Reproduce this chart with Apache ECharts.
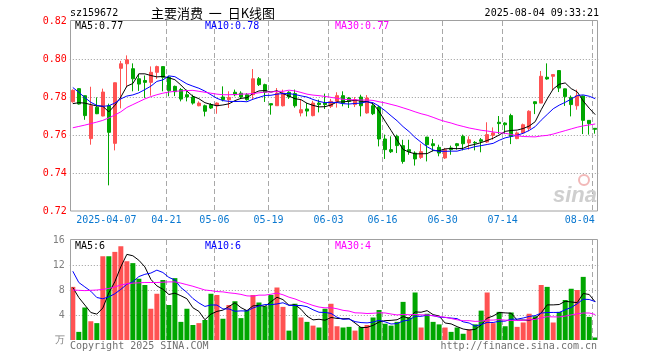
<!DOCTYPE html>
<html><head><meta charset="utf-8">
<script src="https://cdn.jsdelivr.net/npm/echarts@6/dist/echarts.min.js"></script>
<style>html,body{margin:0;padding:0;background:#fff}#c{width:660px;height:360px}</style>
</head><body><div id="c"></div>
<script>
const dates = ['2025-03-27','2025-03-28','2025-03-31','2025-04-01','2025-04-02','2025-04-03','2025-04-07','2025-04-08','2025-04-09','2025-04-10',
'2025-04-11','2025-04-14','2025-04-15','2025-04-16','2025-04-17','2025-04-18','2025-04-21','2025-04-22','2025-04-23','2025-04-24',
'2025-04-25','2025-04-28','2025-04-29','2025-04-30','2025-05-06','2025-05-07','2025-05-08','2025-05-09','2025-05-12','2025-05-13',
'2025-05-14','2025-05-15','2025-05-16','2025-05-19','2025-05-20','2025-05-21','2025-05-22','2025-05-23','2025-05-26','2025-05-27',
'2025-05-28','2025-05-29','2025-05-30','2025-06-03','2025-06-04','2025-06-05','2025-06-06','2025-06-09','2025-06-10','2025-06-11',
'2025-06-12','2025-06-13','2025-06-16','2025-06-17','2025-06-18','2025-06-19','2025-06-20','2025-06-23','2025-06-24','2025-06-25',
'2025-06-26','2025-06-27','2025-06-30','2025-07-01','2025-07-02','2025-07-03','2025-07-04','2025-07-07','2025-07-08','2025-07-09',
'2025-07-10','2025-07-11','2025-07-14','2025-07-15','2025-07-16','2025-07-17','2025-07-18','2025-07-21','2025-07-22','2025-07-23',
'2025-07-24','2025-07-25','2025-07-28','2025-07-29','2025-07-30','2025-07-31','2025-08-01','2025-08-04'];

const openP = [0.7775,0.7844,0.7807,0.7581,0.7746,0.7700,0.7754,0.7556,0.7951,0.7975,
0.7949,0.7896,0.7887,0.7877,0.7930,0.7960,0.7904,0.7856,0.7839,0.7812,
0.7800,0.7754,0.7754,0.7760,0.7754,0.7800,0.7786,0.7825,0.7820,0.7812,
0.7812,0.7896,0.7865,0.7765,0.7754,0.7754,0.7825,0.7818,0.7716,0.7737,
0.7702,0.7768,0.7768,0.7751,0.7777,0.7807,0.7795,0.7760,0.7800,0.7716,
0.7754,0.7747,0.7579,0.7523,0.7593,0.7544,0.7523,0.7505,0.7482,0.7589,
0.7554,0.7535,0.7479,0.7532,0.7554,0.7593,0.7558,0.7561,0.7575,0.7563,
0.7598,0.7667,0.7663,0.7702,0.7581,0.7611,0.7635,0.7775,0.7768,0.7904,
0.7909,0.7939,0.7843,0.7798,0.7754,0.7805,0.7677,0.7635];

const closeP = [0.7835,0.7763,0.7702,0.7754,0.7712,0.7826,0.7614,0.7875,0.7975,0.7996,
0.7896,0.7868,0.7877,0.7930,0.7960,0.7904,0.7833,0.7828,0.7789,0.7800,
0.7768,0.7768,0.7725,0.7742,0.7768,0.7786,0.7798,0.7812,0.7800,0.7786,
0.7896,0.7865,0.7825,0.7758,0.7821,0.7821,0.7800,0.7754,0.7733,0.7726,
0.7768,0.7760,0.7760,0.7777,0.7807,0.7768,0.7777,0.7786,0.7754,0.7795,
0.7712,0.7579,0.7523,0.7512,0.7544,0.7461,0.7512,0.7474,0.7512,0.7549,
0.7544,0.7505,0.7523,0.7523,0.7544,0.7554,0.7575,0.7558,0.7567,0.7602,
0.7611,0.7660,0.7654,0.7593,0.7611,0.7654,0.7725,0.7765,0.7909,0.7895,
0.7918,0.7847,0.7802,0.7760,0.7807,0.7677,0.7660,0.7630];

const lowP = [0.7770,0.7760,0.7680,0.7549,0.7710,0.7698,0.7335,0.7519,0.7740,0.7850,
0.7830,0.7832,0.7795,0.7807,0.7895,0.7830,0.7804,0.7805,0.7777,0.7777,
0.7760,0.7751,0.7698,0.7737,0.7712,0.7777,0.7742,0.7804,0.7789,0.7781,
0.7786,0.7858,0.7774,0.7707,0.7754,0.7750,0.7790,0.7744,0.7698,0.7698,
0.7698,0.7719,0.7737,0.7742,0.7744,0.7751,0.7742,0.7747,0.7698,0.7712,
0.7705,0.7540,0.7474,0.7505,0.7505,0.7449,0.7496,0.7439,0.7474,0.7461,
0.7514,0.7488,0.7474,0.7496,0.7523,0.7519,0.7523,0.7519,0.7509,0.7558,
0.7575,0.7605,0.7605,0.7552,0.7578,0.7609,0.7620,0.7710,0.7768,0.7891,
0.7838,0.7826,0.7753,0.7698,0.7733,0.7605,0.7602,0.7607];

const highP = [0.7840,0.7846,0.7808,0.7854,0.7798,0.7844,0.7765,0.7876,0.7990,0.8019,
0.7977,0.7922,0.7913,0.7961,0.7965,0.7962,0.7912,0.7860,0.7847,0.7839,
0.7812,0.7777,0.7760,0.7768,0.7772,0.7856,0.7830,0.7839,0.7830,0.7820,
0.7947,0.7905,0.7870,0.7765,0.7847,0.7839,0.7830,0.7839,0.7786,0.7768,
0.7780,0.7786,0.7818,0.7790,0.7825,0.7830,0.7800,0.7800,0.7812,0.7810,
0.7765,0.7754,0.7602,0.7593,0.7602,0.7575,0.7575,0.7514,0.7554,0.7590,
0.7579,0.7549,0.7532,0.7544,0.7558,0.7602,0.7593,0.7568,0.7584,0.7667,
0.7640,0.7700,0.7667,0.7712,0.7619,0.7660,0.7730,0.7777,0.7937,0.7977,
0.7918,0.7940,0.7844,0.7808,0.7839,0.7807,0.7677,0.7637];

const ma5 = [0.7765,0.7770,0.7768,0.7760,0.7753,0.7751,0.7722,0.7756,0.7800,0.7857,
0.7871,0.7922,0.7922,0.7913,0.7906,0.7908,0.7901,0.7891,0.7863,0.7831,
0.7804,0.7791,0.7770,0.7761,0.7754,0.7758,0.7764,0.7781,0.7793,0.7796,
0.7818,0.7832,0.7834,0.7826,0.7833,0.7818,0.7805,0.7791,0.7786,0.7767,
0.7756,0.7748,0.7749,0.7758,0.7774,0.7774,0.7778,0.7783,0.7778,0.7776,
0.7765,0.7725,0.7673,0.7624,0.7574,0.7524,0.7510,0.7501,0.7501,0.7502,
0.7518,0.7517,0.7527,0.7529,0.7528,0.7530,0.7544,0.7551,0.7560,0.7571,
0.7583,0.7600,0.7619,0.7624,0.7626,0.7634,0.7647,0.7670,0.7733,0.7790,
0.7842,0.7867,0.7874,0.7844,0.7827,0.7779,0.7741,0.7707];

const ma10 = [0.7850,0.7825,0.7797,0.7772,0.7756,0.7751,0.7754,0.7768,0.7790,0.7805,
0.7811,0.7822,0.7839,0.7857,0.7882,0.7890,0.7911,0.7907,0.7888,0.7869,
0.7857,0.7846,0.7831,0.7812,0.7793,0.7781,0.7777,0.7776,0.7777,0.7775,
0.7788,0.7798,0.7808,0.7809,0.7815,0.7818,0.7818,0.7813,0.7806,0.7800,
0.7787,0.7777,0.7770,0.7772,0.7771,0.7765,0.7763,0.7766,0.7768,0.7775,
0.7770,0.7752,0.7728,0.7701,0.7675,0.7644,0.7618,0.7587,0.7562,0.7538,
0.7521,0.7514,0.7514,0.7515,0.7515,0.7524,0.7530,0.7539,0.7544,0.7550,
0.7556,0.7572,0.7585,0.7592,0.7599,0.7609,0.7624,0.7644,0.7678,0.7708,
0.7738,0.7757,0.7772,0.7789,0.7808,0.7811,0.7804,0.7791];

const ma30 = [0.7638,0.7645,0.7652,0.7660,0.7668,0.7677,0.7690,0.7705,0.7722,0.7745,
0.7760,0.7775,0.7790,0.7802,0.7812,0.7820,0.7826,0.7830,0.7832,0.7834,
0.7835,0.7830,0.7825,0.7820,0.7815,0.7812,0.7812,0.7813,0.7815,0.7816,
0.7818,0.7822,0.7826,0.7826,0.7830,0.7830,0.7836,0.7832,0.7824,0.7815,
0.7810,0.7807,0.7803,0.7798,0.7793,0.7788,0.7786,0.7785,0.7784,0.7784,
0.7782,0.7775,0.7769,0.7761,0.7753,0.7743,0.7733,0.7722,0.7712,0.7704,
0.7693,0.7681,0.7671,0.7663,0.7653,0.7645,0.7637,0.7631,0.7625,0.7621,
0.7616,0.7612,0.7609,0.7603,0.7596,0.7592,0.7591,0.7590,0.7595,0.7598,
0.7605,0.7614,0.7623,0.7632,0.7641,0.7648,0.7653,0.7658];

const volume = [8.5,1.3,5.2,3.0,2.7,13.4,13.4,14.1,15.0,12.6,
12.3,9.8,8.8,5.0,7.4,9.6,5.6,9.9,2.9,5.0,
2.4,2.7,3.2,7.4,7.2,3.4,5.6,6.2,3.5,4.8,
7.2,6.0,5.4,7.2,8.4,5.3,1.5,5.8,3.6,2.9,
2.3,2.0,5.0,5.8,2.2,2.0,2.1,1.5,2.1,2.4,
3.6,4.8,2.6,2.3,2.9,6.1,3.6,7.6,2.0,4.2,
2.9,2.5,2.0,1.3,2.0,1.0,1.7,2.5,4.7,7.6,
2.7,4.5,2.2,4.4,2.1,2.8,4.2,3.8,8.8,8.5,
2.8,4.5,6.4,8.2,8.0,10.1,3.7,0.4];

const vma5 = [8.4,6.8,5.6,4.4,4.14,5.12,7.54,9.32,11.72,13.7,
13.48,12.76,11.7,9.7,8.66,8.12,7.28,7.5,7.08,6.6,
5.16,4.58,3.24,4.14,4.58,4.78,5.36,5.96,5.18,4.7,
5.46,5.54,5.38,6.12,6.84,6.46,5.56,5.64,4.92,3.82,
3.22,3.32,3.16,3.6,3.46,3.4,3.42,2.72,1.98,2.02,
2.34,2.88,3.1,3.14,3.24,3.74,3.5,4.5,4.44,4.7,
4.06,3.84,2.72,2.58,2.14,1.76,1.6,1.7,2.38,3.5,
3.84,4.4,4.34,4.28,3.18,3.2,3.14,3.46,4.34,5.62,
5.62,5.68,6.2,6.08,5.98,7.44,7.28,6.08];

const vma10 = [11.0,9.2,8.5,7.8,6.8,6.6,6.9,7.4,8.1,8.92,
9.3,10.15,10.51,10.71,11.18,10.8,10.02,9.6,8.39,7.63,
6.64,5.93,5.37,5.61,5.59,4.97,4.97,4.6,4.66,4.64,
5.12,5.45,5.67,5.65,5.77,5.96,5.55,5.51,5.52,5.33,
4.84,4.44,4.4,4.26,3.64,3.31,3.37,2.94,2.79,2.74,
2.87,3.15,2.91,2.56,2.63,3.04,3.19,3.8,3.79,3.97,
3.9,3.67,3.61,3.51,3.42,2.91,2.72,2.21,2.48,2.82,
2.8,3.0,3.02,3.33,3.34,3.52,3.77,3.9,4.31,4.4,
4.41,4.41,4.83,5.21,5.8,6.53,6.48,6.14];

const vma30 = [8.0,7.95,7.9,7.95,8.0,8.1,8.25,8.5,8.8,9.0,
9.1,9.15,9.2,9.2,9.2,9.25,9.3,9.3,9.1,8.85,
8.6,8.3,8.0,7.9,7.75,7.7,7.55,7.45,7.3,7.06,
7.02,7.18,7.18,7.32,7.51,7.24,6.85,6.57,6.19,5.87,
5.53,5.27,5.15,5.17,5.0,4.75,4.63,4.35,4.32,4.24,
4.28,4.35,4.33,4.16,4.01,4.10,4.04,4.08,4.03,4.01,
3.87,3.75,3.64,3.44,3.23,3.09,3.09,2.98,3.02,3.18,
3.19,3.27,3.18,3.13,3.13,3.16,3.23,3.30,3.53,3.73,
3.70,3.69,3.82,4.02,4.19,4.32,4.32,4.08];

const tickDates = ['2025-04-07','2025-04-21','2025-05-06','2025-05-19','2025-06-03','2025-06-16','2025-06-30','2025-07-14','2025-08-04'];
const tickLabels = ['2025-04-07','04-21','05-06','05-19','06-03','06-16','06-30','07-14','08-04'];
const priceTicks = [0.72, 0.74, 0.76, 0.78, 0.80, 0.82];
const volumeTicks = [0, 4, 8, 12, 16];
const titleTexts = ['sz159672', '主要消费  一  日K线图', '2025-08-04 09:33:21'];
const priceLegend = ['MA5:0.77', 'MA10:0.78', 'MA30:0.77'];
const volumeLegend = ['MA5:6', 'MA10:6', 'MA30:4'];
const footerTexts = ['Copyright 2025 SINA.COM', 'http://finance.sina.com.cn'];

const UP = '#ff5252', DOWN = '#00a600';
const MONO = 'DejaVu Sans Mono';
const candleData = dates.map((d, i) => [openP[i], closeP[i], lowP[i], highP[i]]);
const volData = volume.map((v, i) => ({ value: v, itemStyle: { color: closeP[i] >= openP[i] ? UP : DOWN } }));
const isTick = (i, v) => tickDates.indexOf(v) >= 0;

const n = dates.length;
const bw = 6.005;
const gLeft = 69.8;
const gWidth = n * bw;
const gRight = 660 - gLeft - gWidth;

function xAxis(gi, showLabel) {
  return {
    type: 'category', gridIndex: gi, data: dates, boundaryGap: true,
    axisLine: { show: false }, axisTick: { show: false },
    axisLabel: {
      show: showLabel, interval: isTick, margin: 4,
      formatter: function (v) {
        const k = tickDates.indexOf(v);
        const s = tickLabels[k];
        return k === tickDates.length - 1 ? '{b|' + s + '}' : '{a|' + s + '}';
      },
      rich: {
        a: { color: '#0a78d0', fontFamily: MONO, fontSize: 10, padding: [0, 5, 0, 0] },
        b: { color: '#0a78d0', fontFamily: MONO, fontSize: 10, padding: [0, 31, 0, 0] }
      }
    },
    splitLine: { show: true, interval: isTick, showMinLine: false, showMaxLine: false,
      lineStyle: { color: '#a8a8a8', width: 1, type: [5, 3] } }
  };
}

function line(name, data, color, xi, yi) {
  return { name, type: 'line', data, xAxisIndex: xi, yAxisIndex: yi, symbol: 'none', showSymbol: false,
    lineStyle: { color, width: 1 }, z: 5, silent: true };
}

function txt(text, x, y, color, align, font) {
  return { type: 'text', silent: true, z: 20,
    style: { text, x, y, fill: color, font: font || ('10px ' + MONO), textAlign: align || 'left', align: align || 'left',
      textVerticalAlign: 'middle', verticalAlign: 'middle' } };
}

const chart = echarts.init(document.getElementById('c'), null, { renderer: 'canvas' });
chart.setOption({
  animation: false,
  backgroundColor: '#ffffff',
  grid: [
    { left: gLeft, right: gRight, top: 21, height: 190 },
    { left: gLeft, right: gRight, top: 240, height: 100 }
  ],
  xAxis: [xAxis(0, true), xAxis(1, false)],
  yAxis: [
    { type: 'value', gridIndex: 0, min: priceTicks[0], max: priceTicks[priceTicks.length - 1], interval: 0.02,
      axisLine: { show: false }, axisTick: { show: false },
      axisLabel: { color: '#ff0000', fontFamily: MONO, fontSize: 10, margin: 3, formatter: v => v.toFixed(2) },
      splitLine: { show: true, showMinLine: false, showMaxLine: false, lineStyle: { color: '#9a9a9a', type: [1, 2] } } },
    { type: 'value', gridIndex: 1, min: volumeTicks[0], max: volumeTicks[volumeTicks.length - 1], interval: 4,
      axisLine: { show: false }, axisTick: { show: false },
      axisLabel: { color: '#808080', fontFamily: MONO, fontSize: 10, margin: 5, formatter: v => v === 0 ? '万' : String(v) },
      splitLine: { show: true, showMinLine: false, showMaxLine: false, lineStyle: { color: '#9a9a9a', type: [1, 2] } } }
  ],
  series: [
    { type: 'candlestick', xAxisIndex: 0, yAxisIndex: 0, data: candleData, barWidth: 4,
      itemStyle: { color: UP, color0: DOWN, borderColor: UP, borderColor0: DOWN, borderWidth: 1 }, z: 3, silent: true },
    line('MA5', ma5, '#000000', 0, 0),
    line('MA10', ma10, '#0000ff', 0, 0),
    line('MA30', ma30, '#ff00ff', 0, 0),
    { type: 'bar', xAxisIndex: 1, yAxisIndex: 1, data: volData, barWidth: 5, z: 3, silent: true },
    line('VMA5', vma5, '#000000', 1, 1),
    line('VMA10', vma10, '#0000ff', 1, 1),
    line('VMA30', vma30, '#ff00ff', 1, 1)
  ],
  graphic: [
    { type: 'rect', silent: true, z: 10, shape: { x: 70.5, y: 20.5, width: 527, height: 190.5 },
      style: { fill: 'none', stroke: '#a0a0a0', lineWidth: 1 } },
    { type: 'polyline', silent: true, z: 10, shape: { points: [[70.5, 340], [70.5, 239.5], [597.5, 239.5], [597.5, 340]] },
      style: { fill: 'none', stroke: '#a0a0a0', lineWidth: 1 } },
    txt(titleTexts[0], 70, 13, '#000'),
    txt(titleTexts[1], 151, 13, '#000', 'left', '13px "Noto Sans CJK SC"'),
    txt(titleTexts[2], 599, 13, '#000', 'right'),
    txt(priceLegend[0], 75, 26, '#000'),
    txt(priceLegend[1], 205, 26, '#0000ff'),
    txt(priceLegend[2], 335, 26, '#ff00ff'),
    txt(volumeLegend[0], 75, 246, '#000'),
    txt(volumeLegend[1], 205, 246, '#0000ff'),
    txt(volumeLegend[2], 335, 246, '#ff00ff'),
    txt(footerTexts[0], 70, 346, '#707070'),
    txt(footerTexts[1], 597, 346, '#707070', 'right'),
    txt('sina', 597, 196, '#cfcfcf', 'right', 'italic bold 22px "Liberation Sans"'),
    { type: 'circle', silent: true, z: 1, shape: { cx: 584, cy: 180, r: 5 }, style: { fill: 'none', stroke: '#f2b8b8', lineWidth: 2 } }
  ]
});
</script></body></html>
